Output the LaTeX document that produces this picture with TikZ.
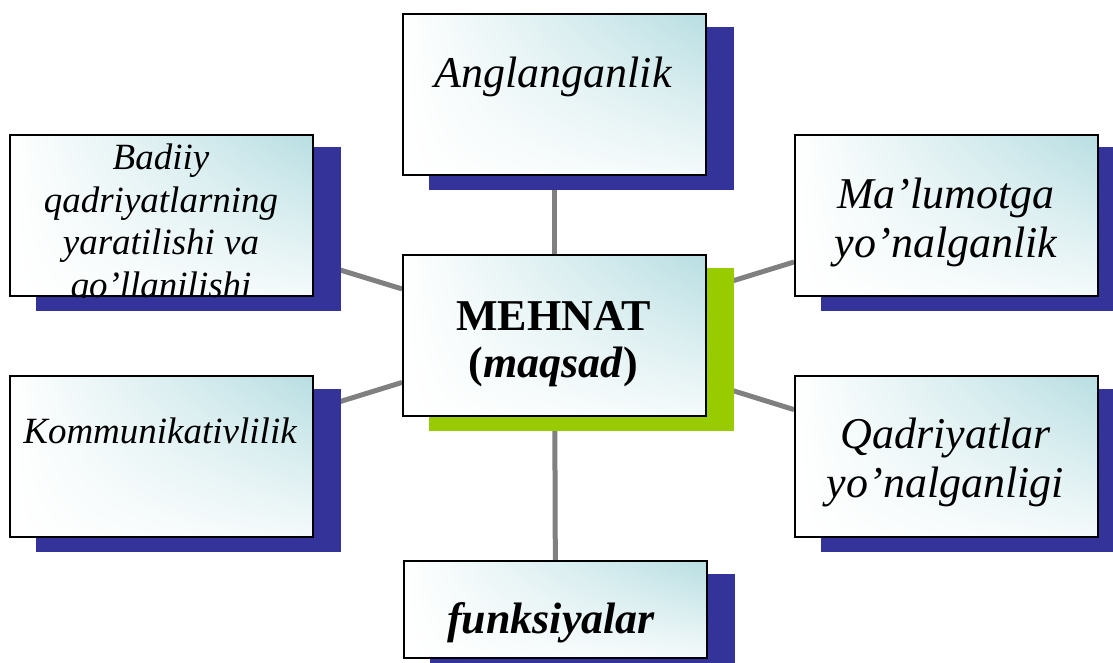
\documentclass[tikz,border=0pt]{standalone}
\usepackage{fontspec}
\setmainfont{Liberation Serif}
\usetikzlibrary{backgrounds,shadings}
\definecolor{kokSoya}{RGB}{51,51,153}
\definecolor{yashilSoya}{RGB}{153,204,0}
\definecolor{firuza}{RGB}{184,222,226}
\definecolor{kulrang}{RGB}{128,128,128}
\tikzset{
  blok/.style={draw=black, line width=1.5pt, inner sep=0pt, minimum width=227.25pt, minimum height=120.75pt,
    shade, upper left=white, upper right=firuza, lower left=white, lower right=firuza!15},
  matn/.style={font=\fontsize{33}{36.75}\selectfont\itshape, align=center, inner sep=0pt, anchor=base},
  boglovchi/.style={draw=kulrang, line width=3.75pt}
}
\begin{document}
\begin{tikzpicture}[x=0.75pt,y=0.75pt,yscale=-1,xscale=1]
\useasboundingbox (0,0) rectangle (1113,663);

%Shape: Rectangle
\node[blok] (angl) at (554.5,95) {};
\node[blok] (badiiy) at (161.5,215.5) {};
\node[blok] (malumot) at (946.5,215.5) {};
\node[blok] (markaz) at (554.5,335.5) {};
\node[blok] (kommun) at (161.5,456.5) {};
\node[blok] (qadr) at (946.5,456.5) {};
\node[blok, minimum height=72.75pt] (funk) at (555.5,609.5) {};

\begin{scope}[on background layer]
%Straight Lines
\foreach \n in {angl,badiiy,malumot,kommun,qadr,funk}
  \draw[boglovchi] (markaz) -- (\n) ;
%Shape: Shadow
\foreach \n/\c in {angl/kokSoya,badiiy/kokSoya,malumot/kokSoya,markaz/yashilSoya,kommun/kokSoya,qadr/kokSoya,funk/kokSoya}
  \fill[\c] ([shift={(27,13.5)}]\n.north west) rectangle ([shift={(27,13.5)}]\n.south east) ;
\end{scope}

% Text Node
\node[matn] (anglMatn) at (553,88) {Anglanganlik};
\begin{scope}
\clip (badiiy.north west) rectangle (badiiy.south east);
% Text Node
\node[matn, font=\fontsize{27.75}{31.9}\selectfont\itshape] (badiiyMatn) at (161,297.5) {Badiiy\\qadriyatlarning\\yaratilishi va\\qo’llanilishi};
\end{scope}
% Text Node
\node[matn] (malumotMatn) at (946,257) {Ma’lumotga\\yo’nalganlik};
% Text Node
\node[matn, font=\fontsize{33}{35}\selectfont\bfseries] (markazMatn) at (553.5,377) {MEHNAT\\(\textit{maqsad})};
% Text Node
\node[matn, font=\fontsize{27.75}{31.9}\selectfont\itshape] (kommunMatn) at (160,443) {Kommunikativlilik};
% Text Node
\node[matn] (qadrMatn) at (945.5,497) {Qadriyatlar\\yo’nalganligi};
% Text Node
\node[matn, font=\fontsize{33}{36}\selectfont\bfseries\itshape] (funkMatn) at (551,633) {funksiyalar};

\end{tikzpicture}
\end{document}
